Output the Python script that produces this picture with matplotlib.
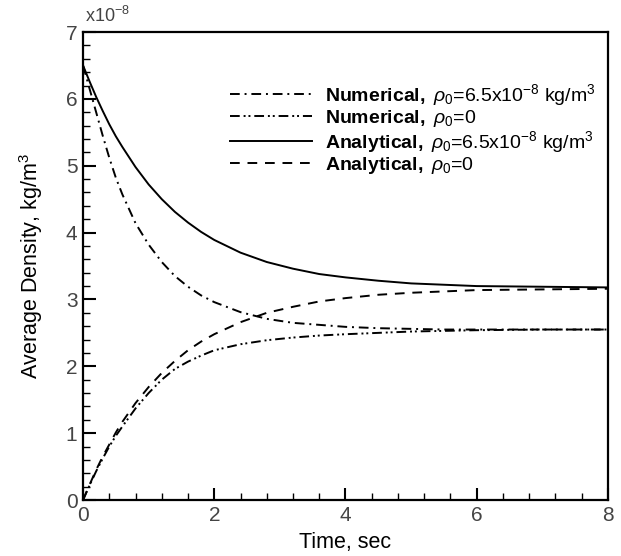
import matplotlib
matplotlib.use("Agg")
import matplotlib.pyplot as plt
from matplotlib.ticker import MultipleLocator

plt.rcParams['font.family'] = ['Liberation Sans', 'DejaVu Sans']
plt.rcParams['mathtext.fontset'] = 'custom'
plt.rcParams['mathtext.rm'] = 'Liberation Sans'
plt.rcParams['mathtext.it'] = 'Liberation Sans:italic'
plt.rcParams['mathtext.bf'] = 'Liberation Sans:bold'

# time (s)
t = [0, 0.1, 0.2, 0.3, 0.4, 0.5, 0.6, 0.8, 1.0, 1.2, 1.4, 1.6, 1.8, 2.0,
     2.4, 2.8, 3.2, 3.6, 4.0, 4.5, 5.0, 5.5, 6.0, 7.0, 8.0]
# average density (x1e-8 kg/m^3)
num_65 = [6.50, 6.15, 5.80, 5.45, 5.12, 4.82, 4.57, 4.14, 3.82, 3.56, 3.35, 3.19,
          3.06, 2.96, 2.81, 2.71, 2.65, 2.62, 2.59, 2.57, 2.56, 2.55, 2.55, 2.55, 2.55]
num_0 = [0.00, 0.22, 0.43, 0.62, 0.80, 0.96, 1.10, 1.37, 1.60, 1.80, 1.96, 2.07,
         2.16, 2.24, 2.33, 2.39, 2.43, 2.46, 2.48, 2.50, 2.52, 2.53, 2.54, 2.55, 2.55]
ana_65 = [6.50, 6.26, 6.03, 5.82, 5.62, 5.44, 5.28, 4.98, 4.72, 4.50, 4.31, 4.15,
          4.01, 3.89, 3.70, 3.56, 3.46, 3.38, 3.33, 3.28, 3.24, 3.22, 3.20, 3.19, 3.18]
ana_0 = [0.00, 0.23, 0.45, 0.65, 0.83, 1.01, 1.17, 1.45, 1.69, 1.90, 2.08, 2.24,
         2.37, 2.48, 2.66, 2.80, 2.89, 2.97, 3.02, 3.07, 3.10, 3.12, 3.14, 3.15, 3.16]

labels = [r"$\mathbf{Numerical,}$ $\rho_0$=6.5x10$^{-8}$ kg/m$^3$",
          r"$\mathbf{Numerical,}$ $\rho_0$=0",
          r"$\mathbf{Analytical,}$ $\rho_0$=6.5x10$^{-8}$ kg/m$^3$",
          r"$\mathbf{Analytical,}$ $\rho_0$=0"]

fig = plt.figure(figsize=(6.21, 5.56), dpi=100)
ax = fig.add_axes([0.1337, 0.1007, 0.979 - 0.1337, 0.9424 - 0.1007])

lw = 1.4
ax.plot(t, num_65, color='black', lw=lw, dashes=(5, 2.5, 1, 2.5), label=labels[0])
ax.plot(t, num_0, color='black', lw=lw, dashes=(5, 2, 1, 1.5, 1, 2), label=labels[1])
ax.plot(t, ana_65, color='black', lw=lw, label=labels[2])
ax.plot(t, ana_0, color='black', lw=lw, dashes=(5, 4), label=labels[3])

ax.set_xlim(0, 8)
ax.set_ylim(0, 7)
ax.xaxis.set_major_locator(MultipleLocator(2))
ax.xaxis.set_minor_locator(MultipleLocator(0.4))
ax.yaxis.set_major_locator(MultipleLocator(1))
ax.yaxis.set_minor_locator(MultipleLocator(0.2))
ax.tick_params(which='both', direction='in', top=False, right=False,
               labelsize=15, labelcolor='#444444', color='black')
ax.tick_params(which='major', length=9, width=1.5, pad=4)
ax.tick_params(which='minor', length=5, width=1.0)
for s in ax.spines.values():
    s.set_linewidth(1.6)

ax.set_xlabel("Time, sec", fontsize=15.5, labelpad=5)
ax.set_ylabel("Average Density, kg/m$^3$", fontsize=15.5, labelpad=15)
ax.text(0.004, 1.012, r"x10$^{-8}$", transform=ax.transAxes, fontsize=13,
        color='#444444', ha='left', va='bottom')

leg = ax.legend(loc='upper left', bbox_to_anchor=(0.28, 0.893), frameon=False,
                fontsize=14, handlelength=4.2, handletextpad=0.7,
                labelspacing=0.0, borderaxespad=0.0, borderpad=0.0)

fig.savefig("out.png", dpi=100)
